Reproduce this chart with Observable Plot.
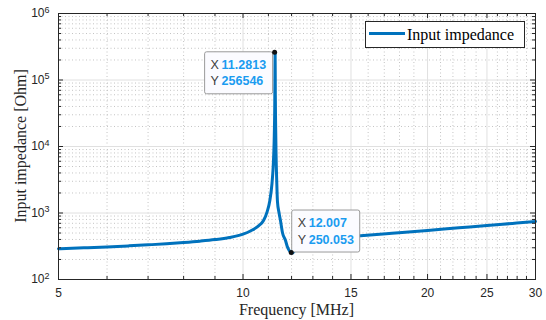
<!DOCTYPE html>
<html><head><meta charset="utf-8">
<script src="https://cdn.jsdelivr.net/npm/d3@7"></script>
<script src="https://cdn.jsdelivr.net/npm/@observablehq/plot@0.6"></script>
<style>
body{margin:0;background:#fff;}
#chart svg{overflow:visible;}
</style></head><body><div id="chart"></div>
<script>
// ---- data ----
const freq = [5.0,5.5,6.0,6.5,7.0,7.5,8.0,8.5,9.0,9.5,10.0,10.3,10.6,10.8,10.95,11.06,11.15,11.2,11.24,11.265,11.2813,11.29,11.3,11.32,11.35,11.38,11.45,11.51,11.6,11.73,11.8,11.9,12.007,12.1,12.2,12.35,12.5,13,14,15,17.5,20,22.5,25,27.5,30];
const impedance = [290,299,309,320,332,345,360,377,398,428,480,540,640,771,1050,1540,2800,5000,12000,40000,256546,60000,25000,8000,3000,1500,1000,771,500,386,320,270,250.053,262,300,345,372,398,422,443,495,546,598,647,697,745];
const xTicks = [5,10,15,20,25,30];
const xMinor = [6,7,8,9,11,12,13,14,16,17,18,19,21,22,23,24,26,27,28,29];
const yTicks = [1e2,1e3,1e4,1e5,1e6];
const yMinorMult = [2,3,4,5,6,7,8,9];
const tipF = [11.2813, 12.007];
const tipZ = [256546, 250.053];
const tipXText = ["11.2813", "12.007"];
const tipYText = ["256546", "250.053"];
const legendLabel = "Input impedance";
const xLabel = "Frequency [MHz]";
const yLabel = "Input impedance [Ohm]";

// ---- layout ----
const W = 546, H = 320, mL = 58, mR = 11, mT = 13, mB = 41;
const iW = W - mL - mR, iH = H - mT - mB;
const blue = "#0072BD", axisCol = "#262626";

const data = freq.map((f, i) => ({f, z: impedance[i]}));
const yMinor = yTicks.slice(0, -1).flatMap(d => yMinorMult.map(m => d * m));
const tips = tipF.map((f, i) => ({f, z: tipZ[i]}));

const plot = Plot.plot({
  width: W, height: H,
  marginLeft: mL, marginRight: mR, marginTop: mT, marginBottom: mB,
  style: {fontFamily: "'Liberation Sans', Arial, sans-serif", fontSize: "12px", color: axisCol, background: "#fff"},
  x: {type: "log", domain: [5, 30]},
  y: {type: "log", domain: [100, 1e6]},
  marks: [
    Plot.ruleX(xMinor, {stroke: "#c4c4c4", strokeDasharray: "1,2.5"}),
    Plot.ruleY(yMinor, {stroke: "#c4c4c4", strokeDasharray: "1,2.5"}),
    Plot.ruleX(xTicks, {stroke: "#e0e0e0"}),
    Plot.ruleY(yTicks, {stroke: "#e0e0e0"}),
    Plot.line(data, {x: "f", y: "z", stroke: blue, strokeWidth: 3, curve: "monotone-x"}),
    // inward ticks, all four sides
    Plot.ruleX(xTicks, {stroke: axisCol, insetTop: iH - 5}),
    Plot.ruleX(xTicks, {stroke: axisCol, insetBottom: iH - 5}),
    Plot.ruleX(xMinor, {stroke: axisCol, insetTop: iH - 3}),
    Plot.ruleX(xMinor, {stroke: axisCol, insetBottom: iH - 3}),
    Plot.ruleY(yTicks, {stroke: axisCol, insetRight: iW - 5}),
    Plot.ruleY(yTicks, {stroke: axisCol, insetLeft: iW - 5}),
    Plot.ruleY(yMinor, {stroke: axisCol, insetRight: iW - 3}),
    Plot.ruleY(yMinor, {stroke: axisCol, insetLeft: iW - 3}),
    Plot.frame({stroke: axisCol}),
    Plot.axisX(xTicks, {tickSize: 0, tickPadding: 9, tickFormat: d => String(d), label: null}),
    Plot.axisY(yTicks, {tickSize: 0, tickPadding: 9, tickFormat: d => "10^" + Math.round(Math.log10(d)), label: null})
  ]
});
document.getElementById("chart").appendChild(plot);

const svg = d3.select(plot);
// superscript exponents on y tick labels
svg.selectAll('g[aria-label="y-axis tick label"] text').each(function() {
  const t = d3.select(this);
  const [base, exp] = t.text().split("^");
  t.text(base);
  t.append("tspan").attr("dy", "-0.5em").attr("font-size", "9px").text(exp);
});

const sx = plot.scale("x"), sy = plot.scale("y");

// axis titles
svg.append("text").attr("x", mL + iW / 2).attr("y", 315)
  .attr("text-anchor", "middle").attr("font-family", "'Liberation Serif', 'Times New Roman', serif")
  .attr("font-size", "16px").attr("fill", axisCol).text(xLabel);
svg.append("text").attr("transform", `translate(22,${mT + iH / 2}) rotate(-90)`)
  .attr("text-anchor", "middle").attr("dominant-baseline", "middle")
  .attr("font-family", "'Liberation Serif', 'Times New Roman', serif")
  .attr("font-size", "16px").attr("fill", axisCol).text(yLabel);

// legend
const lg = svg.append("g");
lg.append("rect").attr("x", 365.5).attr("y", 21.5).attr("width", 159).attr("height", 26)
  .attr("fill", "#fff").attr("stroke", axisCol);
lg.append("line").attr("x1", 369).attr("x2", 405).attr("y1", 33.5).attr("y2", 33.5)
  .attr("stroke", blue).attr("stroke-width", 3);
lg.append("text").attr("x", 407).attr("y", 39.5).attr("text-anchor", "start")
  .attr("font-family", "'Liberation Serif', 'Times New Roman', serif")
  .attr("font-size", "16px").attr("fill", "#000").text(legendLabel);

// data tips
tips.forEach((d, i) => {
  const px = sx.apply(d.f), py = sy.apply(d.z);
  const w = 68, h = 42;
  const bx = i === 0 ? px - w - 2 : px + 0.5;
  const by = i === 0 ? py - 0.5 : py - h - 0.5;
  const g = svg.append("g");
  g.append("rect").attr("x", bx).attr("y", by).attr("width", w).attr("height", h)
    .attr("rx", 2).attr("fill", "#fbfbff").attr("stroke", "#9a9a9a");
  const rows = [["X", tipXText[i]], ["Y", tipYText[i]]];
  rows.forEach((r, k) => {
    const ty = by + 17 + k * 16.5;
    g.append("text").attr("x", bx + 6).attr("y", ty).attr("text-anchor", "start")
      .attr("font-family", "'Liberation Sans', Arial, sans-serif")
      .attr("font-size", "12.5px").attr("fill", "#404040").text(r[0]);
    g.append("text").attr("x", bx + 17).attr("y", ty).attr("text-anchor", "start")
      .attr("font-family", "'Liberation Sans', Arial, sans-serif")
      .attr("font-size", "12.5px").attr("font-weight", "bold").attr("fill", "#1a9bf0").text(r[1]);
  });
  svg.append("circle").attr("cx", px).attr("cy", py).attr("r", 2.5).attr("fill", "#111");
});
</script>
</body></html>
